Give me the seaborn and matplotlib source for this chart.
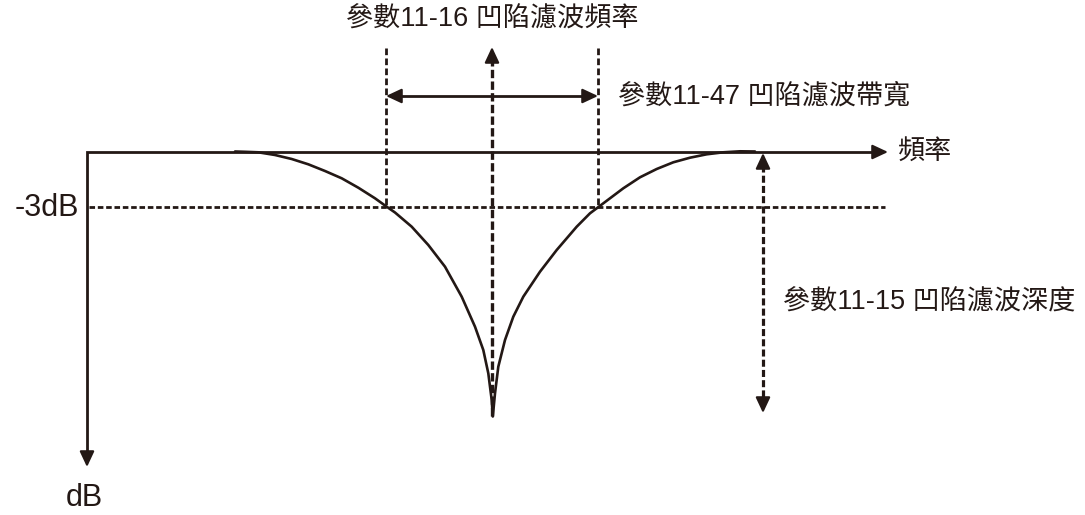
import seaborn as sns
import matplotlib.pyplot as plt

# notch filter response (pixel units, y down)
curve_x = [235, 245, 258.3, 275, 291.7, 308.3, 325, 341.7, 358.3, 375, 385.7, 395,
           411.7, 428.3, 445, 461.7, 475, 483.3, 488.3, 491.7, 492.8,
           495, 498.3, 505, 513.3, 523.3, 540, 556.7, 576.7, 590, 596.7,
           623.3, 640, 656.7, 673.3, 690, 706.7, 723.3, 740, 755]
curve_y = [151.5, 151.8, 152.3, 155, 159, 164.3, 171, 178.3, 187.7, 198.3, 206, 212.5,
           226.7, 245, 266.7, 296.7, 326.7, 350, 373.3, 400, 416.5,
           393.3, 366.7, 340, 316.7, 296.7, 271.7, 250, 226.7, 213.3, 208.3,
           188.3, 177.3, 169, 162.3, 157.7, 154.3, 152.3, 151.3, 151.5]

# reference levels / positions of the drawing
axis_x = 87          # dB axis
zero_db = 152        # frequency axis (0 dB)
minus3_db = 207      # -3dB line
axis_end_x = 888
axis_end_y = 467
notch_f = 492
band_lo = 386
band_hi = 598
band_y = 96
notch_bottom = 416
depth_x = 763
depth_bottom = 413

labels = {
    "freq": "參數11-16 凹陷濾波頻率",
    "band": "參數11-47 凹陷濾波帶寬",
    "depth": "參數11-15 凹陷濾波深度",
    "xaxis": "頻率",
    "minus3": "-3dB",
    "yaxis": "dB",
}

INK = "#231815"
HEAD = 13

sns.set_theme(style="white")
plt.rcParams['font.family'] = ['Liberation Sans', 'Noto Sans CJK TC', 'DejaVu Sans']

fig = plt.figure(figsize=(10.85, 5.15), dpi=100)
ax = fig.add_axes([0, 0, 1, 1])
ax.set_xlim(0, 1085)
ax.set_ylim(515, 0)
ax.axis('off')


def head(tip, direction):
    # solid triangular arrow head ending at tip
    dx, dy = direction
    tail = (tip[0] - dx * HEAD, tip[1] - dy * HEAD)
    ax.annotate("", xy=tip, xytext=tail,
                arrowprops=dict(arrowstyle="-|>,head_length=0.47,head_width=0.22",
                                mutation_scale=20, color=INK, lw=1.6,
                                shrinkA=0, shrinkB=0))


# axes
ax.plot([axis_x, axis_x, axis_end_x - HEAD], [axis_end_y - HEAD, zero_db, zero_db],
        color=INK, lw=2.0, solid_joinstyle='miter')
head((axis_end_x, zero_db), (1, 0))
head((axis_x, axis_end_y), (0, 1))

# -3dB level
ax.plot([axis_x + 2, 885], [minus3_db, minus3_db], color=INK, lw=2.0,
        linestyle=(0, (2.0, 1.0)))

# bandwidth edges
for bx in [band_lo, band_hi]:
    ax.plot([bx, bx], [48, minus3_db], color=INK, lw=2.0, linestyle=(0, (2.4, 1.2)))

# bandwidth double arrow
ax.plot([band_lo + HEAD, band_hi - HEAD], [band_y, band_y], color=INK, lw=2.0)
head((band_lo, band_y), (-1, 0))
head((band_hi, band_y), (1, 0))

# notch frequency arrow
ax.plot([notch_f, notch_f], [notch_bottom, 47 + HEAD], color=INK, lw=2.4,
        linestyle=(0, (2.5, 1.0)))
head((notch_f, 47), (0, -1))

# depth double arrow
ax.plot([depth_x, depth_x], [zero_db + HEAD, depth_bottom - HEAD], color=INK, lw=2.3,
        linestyle=(0, (2.2, 1.0)))
head((depth_x, zero_db + 1), (0, -1))
head((depth_x, depth_bottom), (0, 1))

# response curve
sns.lineplot(x=curve_x, y=curve_y, sort=False, estimator=None, color=INK, lw=1.9, ax=ax)

# texts
ax.text(notch_f, 20, labels["freq"], ha='center', va='center', fontsize=19.5, color=INK)
ax.text(618, band_y + 1, labels["band"], ha='left', va='center', fontsize=19.5, color=INK)
ax.text(898, zero_db, labels["xaxis"], ha='left', va='center', fontsize=19.5, color=INK)
ax.text(783, 302, labels["depth"], ha='left', va='center', fontsize=19.5, color=INK)
ax.text(79, minus3_db + 1, labels["minus3"], ha='right', va='center', fontsize=22, color=INK)
ax.text(axis_x - 3, 498, labels["yaxis"], ha='center', va='center', fontsize=22, color=INK)

fig.savefig("out.png", dpi=100)
